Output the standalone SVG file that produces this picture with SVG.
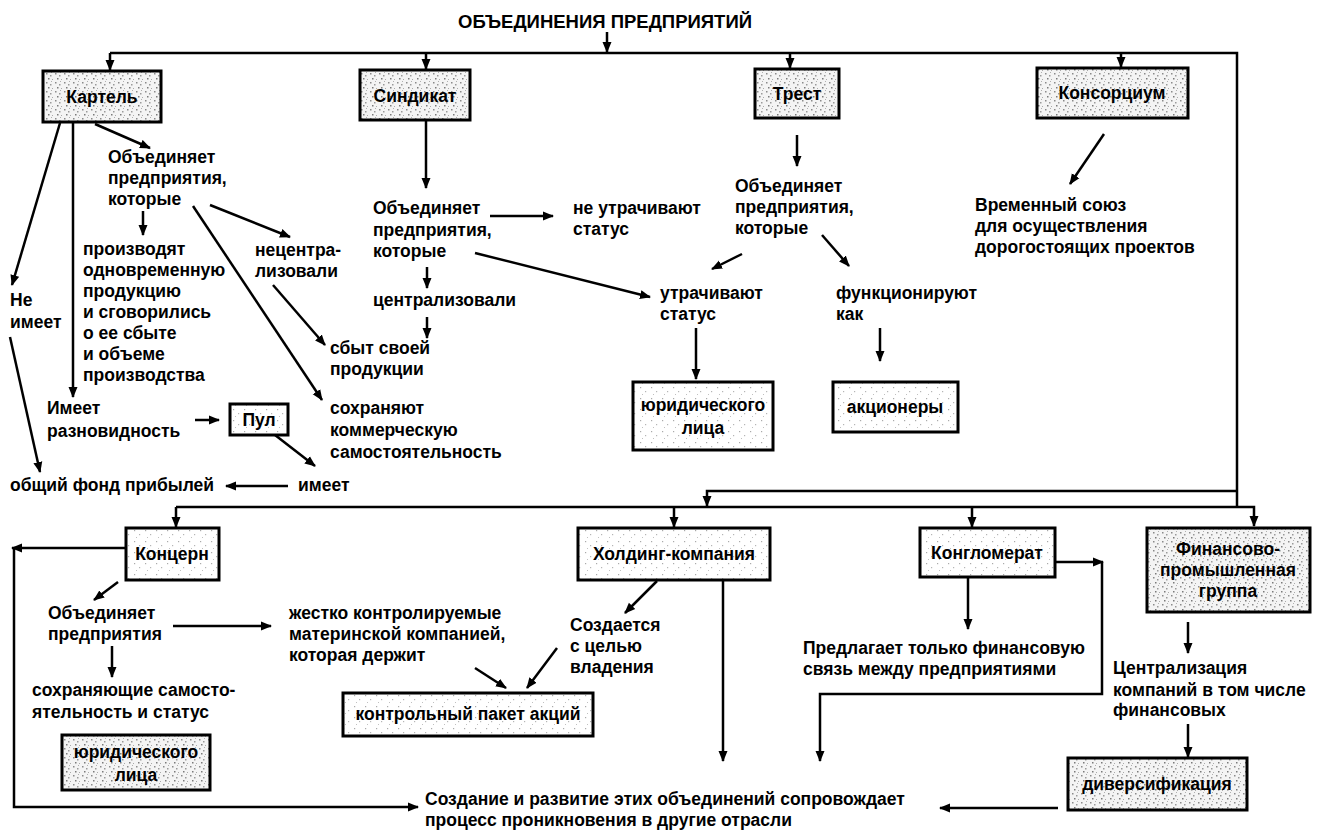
<svg xmlns="http://www.w3.org/2000/svg" width="1319" height="833" viewBox="0 0 1319 833">
<style>
text{font-family:"Liberation Sans",Arial,sans-serif;font-weight:bold;font-size:17.5px;fill:#000}
.m{text-anchor:middle}
.title{font-size:18.5px}
.box{stroke:#000;stroke-width:3}
.dense{fill:url(#pd)}
.light{fill:url(#pl)}
#conn path,#conn line{fill:none;stroke:#000;stroke-width:2.5}
.a{marker-end:url(#ah)}
</style>
<defs>
<marker id="ah" markerUnits="userSpaceOnUse" markerWidth="12" markerHeight="10" refX="10" refY="5" orient="auto"><path d="M0,0.5 L11,5 L0,9.5 z" fill="#000"/></marker>
<pattern id="pd" width="9" height="9" patternUnits="userSpaceOnUse"><rect width="9" height="9" fill="#f4f4f4"/><rect x="1" y="1" width="1.5" height="1.5" fill="#8a8a8a"/><rect x="5" y="3" width="1.5" height="1.5" fill="#9a9a9a"/><rect x="3" y="6" width="1.5" height="1.5" fill="#7a7a7a"/><rect x="7" y="7" width="1" height="1" fill="#aaa"/><rect x="6" y="0" width="1" height="1" fill="#b0b0b0"/></pattern>
<pattern id="pl" width="11" height="11" patternUnits="userSpaceOnUse"><rect width="11" height="11" fill="#fff"/><rect x="2" y="2" width="1.2" height="1.2" fill="#aaa"/><rect x="7" y="6" width="1.2" height="1.2" fill="#b5b5b5"/><rect x="4" y="9" width="1" height="1" fill="#c0c0c0"/></pattern>
</defs>
<rect width="1319" height="833" fill="#fff"/>

<g id="conn">
<line class="a" x1="607" y1="32" x2="607" y2="52"/>
<path d="M110,53 H1237 V507"/>
<line class="a" x1="110" y1="53" x2="110" y2="70"/>
<line class="a" x1="426" y1="53" x2="426" y2="69"/>
<line class="a" x1="790" y1="53" x2="790" y2="68"/>
<line class="a" x1="1121" y1="53" x2="1121" y2="67"/>
<!-- Картель -->
<line class="a" x1="60" y1="123" x2="12" y2="285"/>
<line class="a" x1="73" y1="123" x2="73" y2="397"/>
<line class="a" x1="95" y1="124" x2="150" y2="148"/>
<line class="a" x1="143" y1="211" x2="143" y2="235"/>
<line class="a" x1="210" y1="205" x2="290" y2="237"/>
<line class="a" x1="193" y1="206" x2="322" y2="400"/>
<line class="a" x1="273" y1="285" x2="325" y2="345"/>
<line class="a" x1="195" y1="420" x2="219" y2="420"/>
<line class="a" x1="275" y1="435" x2="315" y2="466"/>
<line class="a" x1="288" y1="486" x2="226" y2="486"/>
<line class="a" x1="10" y1="337" x2="40" y2="472"/>
<!-- Синдикат -->
<line class="a" x1="426" y1="121" x2="426" y2="188"/>
<line class="a" x1="490" y1="216" x2="553" y2="216"/>
<line class="a" x1="427" y1="267" x2="427" y2="288"/>
<line class="a" x1="427" y1="317" x2="427" y2="338"/>
<line class="a" x1="475" y1="253" x2="650" y2="297"/>
<!-- Трест -->
<line class="a" x1="797" y1="135" x2="797" y2="166"/>
<line class="a" x1="742" y1="254" x2="712" y2="269"/>
<line class="a" x1="822" y1="235" x2="849" y2="266"/>
<line class="a" x1="696" y1="328" x2="696" y2="379"/>
<line class="a" x1="880" y1="328" x2="880" y2="361"/>
<!-- Консорциум -->
<line class="a" x1="1104" y1="134" x2="1070" y2="184"/>
<!-- bottom distribution -->
<path d="M1237,491 H707 V506" class="a"/>
<path d="M176,507 H1254 V526" class="a"/>
<line class="a" x1="176" y1="507" x2="176" y2="527"/>
<line class="a" x1="674" y1="507" x2="674" y2="527"/>
<line class="a" x1="972" y1="507" x2="972" y2="527"/>
<!-- Концерн -->
<line class="a" x1="126" y1="548" x2="12" y2="548"/>
<path class="a" d="M14,548 V807 H418"/>
<line class="a" x1="118" y1="582" x2="94" y2="600"/>
<line class="a" x1="173" y1="626" x2="271" y2="626"/>
<line class="a" x1="112" y1="646" x2="112" y2="677"/>
<line class="a" x1="475" y1="668" x2="506" y2="688"/>
<!-- Холдинг -->
<line class="a" x1="657" y1="581" x2="625" y2="613"/>
<line class="a" x1="557" y1="648" x2="527" y2="688"/>
<line class="a" x1="723" y1="580" x2="723" y2="761"/>
<!-- Конгломерат -->
<line class="a" x1="968" y1="578" x2="968" y2="629"/>
<line class="a" x1="1056" y1="562" x2="1103" y2="562"/>
<path class="a" d="M1102,562 V694 H820 V761"/>
<!-- ФПГ -->
<line class="a" x1="1188" y1="622" x2="1188" y2="653"/>
<line class="a" x1="1188" y1="724" x2="1188" y2="757"/>
<line class="a" x1="1058" y1="808" x2="940" y2="808"/>
</g>

<g id="title"><text class="m title" x="605" y="28">ОБЪЕДИНЕНИЯ ПРЕДПРИЯТИЙ</text></g>

<g id="kartel"><rect class="box dense" x="43" y="71" width="118" height="51"/><text class="m" x="102" y="103">Картель</text></g>
<g id="sindikat"><rect class="box dense" x="360" y="70" width="110" height="50"/><text class="m" x="415" y="102">Синдикат</text></g>
<g id="trest"><rect class="box dense" x="755" y="69" width="84" height="49"/><text class="m" x="797" y="100">Трест</text></g>
<g id="konsorcium"><rect class="box dense" x="1037" y="68" width="151" height="50"/><text class="m" x="1112" y="99">Консорциум</text></g>

<g id="k-obj"><text x="108" y="163">Объединяет</text><text x="108" y="184">предприятия,</text><text x="108" y="205">которые</text></g>
<g id="k-proizv"><text x="83" y="255">производят</text><text x="83" y="276">одновременную</text><text x="83" y="297">продукцию</text><text x="83" y="318">и сговорились</text><text x="83" y="339">о ее сбыте</text><text x="83" y="360">и объеме</text><text x="83" y="381">производства</text></g>
<g id="k-necentr"><text x="255" y="256">нецентра-</text><text x="255" y="277">лизовали</text></g>
<g id="k-neimeet"><text x="10" y="306">Не</text><text x="10" y="328">имеет</text></g>
<g id="k-imeet-razn"><text x="47" y="414">Имеет</text><text x="47" y="437">разновидность</text></g>
<g id="pul"><rect class="box light" x="230" y="404" width="58" height="31"/><text class="m" x="259" y="426">Пул</text></g>
<g id="sbyt"><text x="330" y="354">сбыт своей</text><text x="330" y="375">продукции</text></g>
<g id="sohranyayut"><text x="330" y="414">сохраняют</text><text x="330" y="436">коммерческую</text><text x="330" y="458">самостоятельность</text></g>
<g id="fond"><text x="10" y="491">общий фонд прибылей</text></g>
<g id="imeet"><text x="298" y="491">имеет</text></g>

<g id="s-obj"><text x="373" y="214">Объединяет</text><text x="373" y="236">предприятия,</text><text x="373" y="257">которые</text></g>
<g id="ne-utr"><text x="573" y="214">не утрачивают</text><text x="573" y="235">статус</text></g>
<g id="centr"><text x="373" y="306">централизовали</text></g>

<g id="t-obj"><text x="735" y="192">Объединяет</text><text x="735" y="213">предприятия,</text><text x="735" y="234">которые</text></g>
<g id="utr"><text x="660" y="299">утрачивают</text><text x="660" y="320">статус</text></g>
<g id="funk"><text x="836" y="299">функционируют</text><text x="836" y="320">как</text></g>
<g id="yur1"><rect class="box light" x="633" y="382" width="140" height="68"/><text class="m" x="703" y="411">юридического</text><text class="m" x="703" y="434">лица</text></g>
<g id="akcionery"><rect class="box light" x="833" y="382" width="125" height="50"/><text class="m" x="895" y="413">акционеры</text></g>

<g id="vrem"><text x="975" y="211">Временный союз</text><text x="975" y="232">для осуществления</text><text x="975" y="253">дорогостоящих проектов</text></g>

<g id="koncern"><rect class="box light" x="126" y="528" width="93" height="52"/><text class="m" x="172" y="560">Концерн</text></g>
<g id="kc-obj"><text x="48" y="619">Объединяет</text><text x="48" y="640">предприятия</text></g>
<g id="zhestko"><text x="289" y="619">жестко контролируемые</text><text x="289" y="640">материнской компанией,</text><text x="289" y="661">которая держит</text></g>
<g id="sohr-st"><text x="32" y="696">сохраняющие самосто-</text><text x="32" y="718">ятельность и статус</text></g>
<g id="yur2"><rect class="box dense" x="62" y="735" width="148" height="55"/><text class="m" x="136" y="758">юридического</text><text class="m" x="136" y="781">лица</text></g>
<g id="paket"><rect class="box light" x="343" y="693" width="250" height="43"/><text class="m" x="468" y="720">контрольный пакет акций</text></g>

<g id="holding"><rect class="box light" x="578" y="528" width="192" height="52"/><text class="m" x="674" y="560">Холдинг-компания</text></g>
<g id="sozdaetsya"><text x="570" y="631">Создается</text><text x="570" y="652">с целью</text><text x="570" y="673">владения</text></g>

<g id="konglomerat"><rect class="box light" x="920" y="528" width="135" height="49"/><text class="m" x="987" y="559">Конгломерат</text></g>
<g id="predlagaet"><text x="803" y="654">Предлагает только финансовую</text><text x="803" y="675">связь между предприятиями</text></g>

<g id="fpg"><rect class="box dense" x="1147" y="528" width="163" height="84"/><text class="m" x="1228" y="555">Финансово-</text><text class="m" x="1228" y="576">промышленная</text><text class="m" x="1228" y="597">группа</text></g>
<g id="centralizaciya"><text x="1113" y="674">Централизация</text><text x="1113" y="696">компаний в том числе</text><text x="1113" y="716">финансовых</text></g>
<g id="divers"><rect class="box dense" x="1068" y="758" width="179" height="52"/><text class="m" x="1157" y="790">диверсификация</text></g>

<g id="sozdanie"><text x="425" y="805">Создание и развитие этих объединений сопровождает</text><text x="425" y="826">процесс проникновения в другие отрасли</text></g>
</svg>
